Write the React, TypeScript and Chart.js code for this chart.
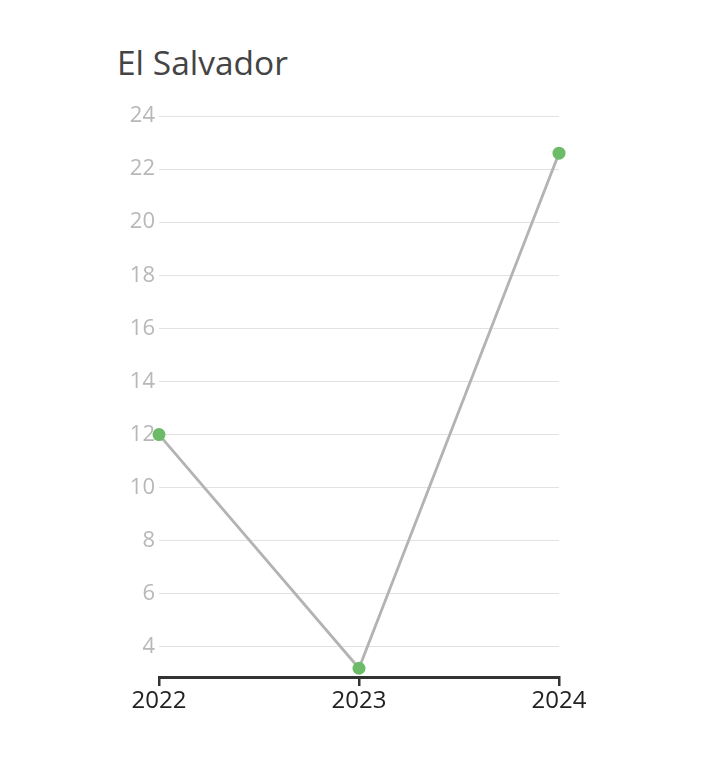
import React, { useEffect, useRef } from "react";
import { Chart, registerables } from "chart.js";

Chart.register(...registerables);

const title = "El Salvador";
const years = [2022, 2023, 2024];
const values = [12, 3.2, 22.6];
const yTickValues = [4, 6, 8, 10, 12, 14, 16, 18, 20, 22, 24];

export default function App() {
  const ref = useRef<HTMLCanvasElement | null>(null);
  useEffect(() => {
    if (!ref.current) return;
    const chart = new Chart(ref.current, {
      type: "line",
      data: {
        datasets: [
          {
            data: years.map((y, i) => ({ x: y, y: values[i] })),
            borderColor: "#b3b3b3",
            borderWidth: 2.8,
            pointRadius: 6.5,
            pointHoverRadius: 6.5,
            pointBackgroundColor: "#6cbb69",
            pointBorderColor: "#6cbb69",
            pointBorderWidth: 0,
            tension: 0,
            clip: false as any,
          },
        ],
      },
      options: {
        animation: false,
        responsive: false,
        maintainAspectRatio: false,
        layout: { padding: { left: 0, right: 160, top: 116, bottom: 58 } },
        plugins: { legend: { display: false }, tooltip: { enabled: false }, title: { display: false } },
        scales: {
          x: {
            type: "linear",
            min: 2022,
            max: 2024,
            afterBuildTicks: (scale: any) => {
              scale.ticks = years.map((v) => ({ value: v }));
            },
            afterFit: (scale: any) => {
              scale.height = 40;
            },
            ticks: {
              color: "#222",
              font: { family: "'Open Sans'", size: 24 },
              padding: 1,
              maxRotation: 0,
              callback: (v: any) => String(v),
            },
            grid: {
              display: true,
              drawOnChartArea: false,
              drawTicks: true,
              tickLength: 9,
              color: "#333",
              lineWidth: 2.5,
            },
            border: { display: true, color: "#333", width: 3 },
          },
          y: {
            type: "linear",
            min: 2.87,
            max: 24,
            afterBuildTicks: (scale: any) => {
              scale.ticks = yTickValues.map((v) => ({ value: v }));
            },
            afterFit: (scale: any) => {
              scale.width = 159;
            },
            ticks: {
              color: "#b8b8b8",
              font: { family: "'Open Sans'", size: 22 },
              padding: 4,
            },
            grid: {
              color: "#e2e2e2",
              lineWidth: 1,
              drawTicks: false,
            },
            border: { display: false },
          },
        },
      },
    });
    return () => chart.destroy();
  }, []);
  return (
    <div style={{ position: "absolute", left: 0, top: 0, width: 719, height: 775, background: "#fff" }}>
      <div
        style={{
          position: "absolute",
          left: 117,
          top: 40,
          fontFamily: "'Open Sans'",
          fontSize: 33.5,
          color: "#444",
          lineHeight: "44px",
          whiteSpace: "nowrap",
        }}
      >
        {title}
      </div>
      <canvas ref={ref} width={719} height={775} style={{ position: "absolute", left: 0, top: 0 }} />
    </div>
  );
}
